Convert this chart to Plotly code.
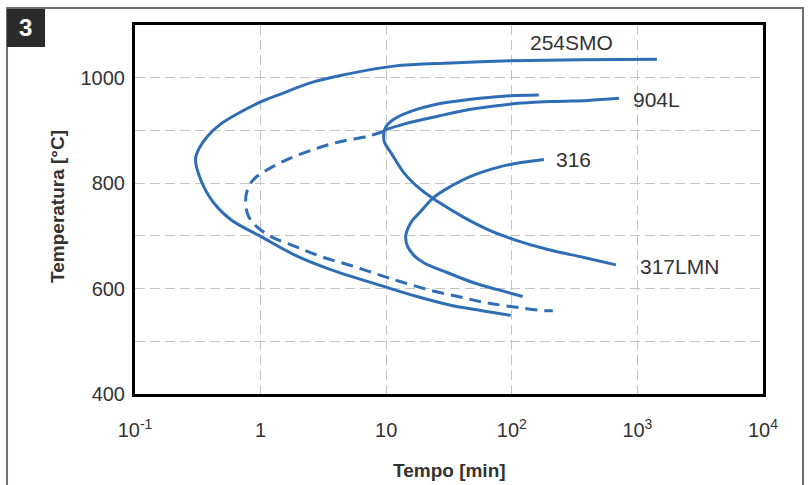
import math
import plotly.graph_objects as go

# ---- data (time in min, temperature in °C) ----
smo_t = [98, 58, 32, 17, 9.3, 3.61, 1.97, 1.0, 0.577, 0.422, 0.333, 0.303, 0.321, 0.378, 0.480, 0.693, 1.0, 1.44, 2.64, 4.93, 11.5, 32.7, 98, 355, 1430]
smo_T = [549, 558, 569, 586, 605, 636, 661, 699, 731, 763, 807, 846, 864, 889, 912, 935, 954, 969, 992, 1007, 1022, 1028, 1032, 1034, 1035]

l904d_t = [9.55, 7.13, 4.34, 2.64, 1.64, 1.14, 0.879, 0.787, 0.759, 0.802, 0.946, 1.20, 1.97, 3.18, 5.51, 9.04, 13.1, 21.4, 37.2, 59.8, 98, 180, 212]
l904d_T = [898, 889, 879, 864, 845, 826, 807, 788, 763, 737, 716, 699, 678, 659, 642, 625, 613, 598, 585, 574, 566, 558, 558]

l904_t = [9.55, 13.8, 25.7, 47.1, 98, 216, 403, 713]
l904_T = [900, 912, 927, 940, 950, 955, 957, 961]

l317_t = [164, 86.3, 47.1, 25.7, 15.7, 11.5, 9.9, 9.55, 9.7, 10.9, 13.8, 18.8, 25.7, 41.5, 64.4, 104, 194, 375, 675]
l317_T = [967, 965, 959, 950, 936, 921, 906, 891, 877, 858, 820, 788, 765, 735, 712, 693, 674, 659, 645]

l316_t = [180, 118, 77.3, 47.1, 32.7, 23.9, 18.8, 15.7, 14.3, 14.8, 16.6, 19.9, 30.9, 49.8, 77.3, 122]
l316_T = [845, 839, 830, 813, 794, 773, 746, 725, 699, 680, 663, 649, 630, 611, 598, 585]

x_tickvals = [0.1, 1, 10, 100, 1000, 10000]
x_ticktext = ["10<sup>-1</sup>", "1", "10", "10<sup>2</sup>", "10<sup>3</sup>", "10<sup>4</sup>"]
y_tickvals = [400, 600, 800, 1000]
y_ticktext = ["400", "600", "800", "1000"]

labels = ["254SMO", "904L", "316", "317LMN"]
label_x = [300, 887, 216, 1009]      # min
label_y = [1066, 959, 845, 642]      # °C
label_anchor = ["center", "left", "left", "left"]

BLUE = "#2f6db5"
FONT = "Liberation Sans, Arial, sans-serif"
TXT = "#333333"
GRID = "#c4c4c4"

fig = go.Figure()
def add_line(t, T, dash=None):
    fig.add_trace(go.Scatter(
        x=t, y=T, mode="lines",
        line=dict(color=BLUE, width=3, shape="spline", smoothing=1.0, dash=dash),
        showlegend=False, hoverinfo="skip"))

add_line(smo_t, smo_T)
add_line(l904d_t, l904d_T, dash="12px,7px")
add_line(l904_t, l904_T)
add_line(l317_t, l317_T)
add_line(l316_t, l316_T)

for txt, lx, ly, anc in zip(labels, label_x, label_y, label_anchor):
    fig.add_annotation(x=math.log10(lx), y=ly, text=txt, showarrow=False,
                       xanchor=anc, yanchor="middle",
                       font=dict(family=FONT, size=21, color=TXT))

# axis titles
fig.add_annotation(xref="paper", yref="paper", x=0.5, y=-0.206, text="<b>Tempo [min]</b>",
                   showarrow=False, xanchor="center", yanchor="middle",
                   font=dict(family=FONT, size=19, color=TXT))
fig.add_annotation(xref="paper", yref="paper", x=-0.1226, y=0.507, text="<b>Temperatura [°C]</b>",
                   showarrow=False, xanchor="center", yanchor="middle", textangle=-90,
                   font=dict(family=FONT, size=19, color=TXT))

# outer frame and badge
fig.add_shape(type="rect", xref="paper", yref="paper", x0=-0.2038, x1=1.0637, y0=-0.4, y1=1.046,
              line=dict(color="#6e6e6e", width=2), fillcolor="rgba(0,0,0,0)", layer="below")
fig.add_shape(type="rect", xref="paper", yref="paper", x0=-0.2038, x1=-0.1433, y0=0.9404, y1=1.0434,
              line=dict(width=0), fillcolor="#2b2b2b")
fig.add_annotation(xref="paper", yref="paper", x=-0.1736, y=0.992, text="<b>3</b>", showarrow=False,
                   xanchor="center", yanchor="middle", font=dict(family=FONT, size=24, color="white"))

fig.update_xaxes(type="log", range=[-1, 4], tickvals=x_tickvals, ticktext=x_ticktext,
                 showgrid=True, gridcolor=GRID, gridwidth=1.3, griddash="10px,5px",
                 showline=True, mirror=True, linecolor="black", linewidth=3,
                 ticks="outside", ticklen=16, tickcolor="rgba(0,0,0,0)",
                 tickfont=dict(family=FONT, size=20, color=TXT), zeroline=False)
fig.update_yaxes(range=[400, 1100], tickvals=y_tickvals, ticktext=y_ticktext,
                 showgrid=True, gridcolor=GRID, gridwidth=1.3, griddash="10px,5px",
                 minor=dict(dtick=100, showgrid=True, gridcolor=GRID, gridwidth=1.3,
                            griddash="10px,5px", ticks=""),
                 showline=True, mirror=True, linecolor="black", linewidth=3,
                 ticks="outside", ticklen=3, tickcolor="rgba(0,0,0,0)",
                 tickfont=dict(family=FONT, size=20, color=TXT), zeroline=False)

fig.update_layout(width=809, height=485, margin=dict(l=135, r=46, t=25, b=91),
                  plot_bgcolor="white", paper_bgcolor="white")
fig.write_html("out.html", config={"displayModeBar": False},
               post_script="document.body.style.margin='0';document.body.style.overflow='hidden';")
